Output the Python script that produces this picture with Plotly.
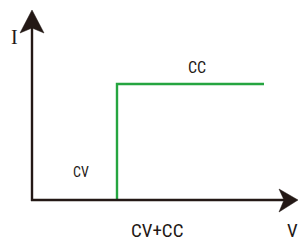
import plotly.graph_objects as go

# Data (arbitrary units; origin at axes corner)
voltage = [85, 85, 232]
current = [0, 116, 116]
x_axis_label = "V"
y_axis_label = "I"
title_text = "CV+CC"
cv_label = "CV"
cc_label = "CC"

AXIS = "#231815"
GREEN = "#25a540"
NARROW = "Liberation Sans Narrow, Roboto Condensed, Arial Narrow, sans-serif"

fig = go.Figure()
fig.add_trace(go.Scatter(x=voltage, y=current, mode="lines",
                         line=dict(color=GREEN, width=2.4), hoverinfo="skip",
                         showlegend=False))

shapes = [
    dict(type="line", x0=0, y0=-1, x1=0, y1=172, line=dict(color=AXIS, width=2.4)),
    dict(type="line", x0=-1, y0=0, x1=252, y1=0, line=dict(color=AXIS, width=2.4)),
    dict(type="path", path="M 0 190 L -12 167 L 0 172 L 12 167 Z",
         fillcolor=AXIS, line=dict(color=AXIS, width=0.5)),
    dict(type="path", path="M 266 0 L 247 11 L 252 0 L 247 -12 Z",
         fillcolor=AXIS, line=dict(color=AXIS, width=0.5)),
]

annotations = [
    dict(x=-18, y=163, text=y_axis_label, showarrow=False,
         font=dict(family="Liberation Serif, serif", size=20, color=AXIS)),
    dict(x=260, y=-30, text=x_axis_label, showarrow=False,
         font=dict(family=NARROW, size=19, color=AXIS)),
    dict(x=125, y=-30, text=title_text, showarrow=False,
         font=dict(family=NARROW, size=19, color=AXIS)),
    dict(x=49, y=28, text=cv_label, showarrow=False,
         font=dict(family=NARROW, size=14, color=AXIS)),
    dict(x=165, y=133, text=cc_label, showarrow=False,
         font=dict(family=NARROW, size=16, color=AXIS)),
]

fig.update_layout(
    width=299, height=241,
    margin=dict(l=0, r=0, t=0, b=0),
    paper_bgcolor="white", plot_bgcolor="white",
    xaxis=dict(range=[-32, 267], visible=False, fixedrange=True),
    yaxis=dict(range=[-41, 200], visible=False, fixedrange=True),
    shapes=shapes, annotations=annotations,
    showlegend=False,
)

fig.write_html("out.html", config={"displayModeBar": False},
               post_script="document.body.style.margin='0';document.body.style.overflow='hidden';")
